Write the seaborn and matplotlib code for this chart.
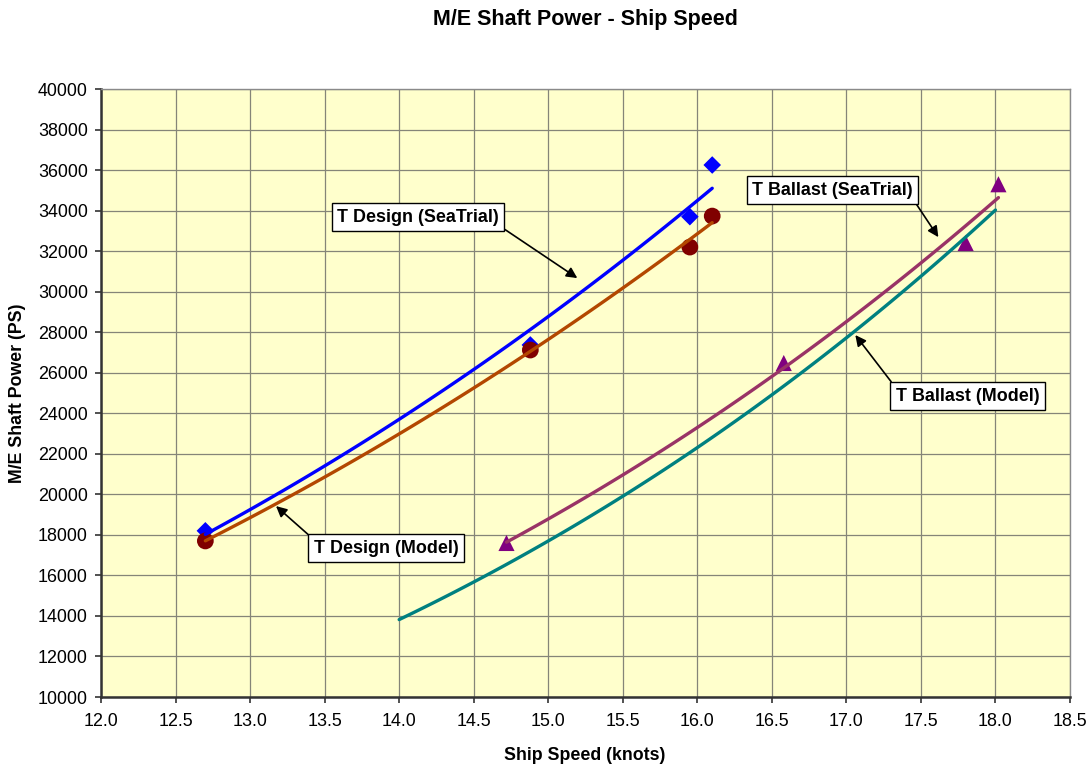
import numpy as np
import pandas as pd
import matplotlib
matplotlib.use("Agg")
import matplotlib.pyplot as plt
import seaborn as sns

# Measured points (speed in knots, M/E shaft power in PS)
speed_design = [12.7, 14.88, 15.95, 16.1]
power_design_seatrial = [18200, 27370, 33700, 36250]
power_design_model = [17700, 27120, 32200, 33730]

speed_ballast_seatrial = [14.72, 16.58, 17.8, 18.02]
power_ballast_seatrial = [17600, 26480, 32400, 35300]

# Model curve for ballast draft (no markers shown)
speed_ballast_model = [14.0, 14.5, 15.0, 16.0, 17.0, 18.0]
power_ballast_model = [13850, 15640, 17700, 22270, 27760, 34030]

x_ticks = [12.0, 12.5, 13.0, 13.5, 14.0, 14.5, 15.0, 15.5, 16.0, 16.5, 17.0, 17.5, 18.0, 18.5]
y_ticks = list(range(10000, 40001, 2000))

title = "M/E Shaft Power - Ship Speed"
x_label = "Ship Speed (knots)"
y_label = "M/E Shaft Power (PS)"


def power_trend(x, y, n=120):
    """Power-law trendline P = a * V^b fitted in log space over the data range."""
    b, log_a = np.polyfit(np.log(x), np.log(y), 1)
    xs = np.linspace(min(x), max(x), n)
    return pd.DataFrame({"speed": xs, "power": np.exp(log_a) * xs ** b})


sns.set_style("ticks")
plt.rcParams["font.family"] = ["Liberation Sans", "DejaVu Sans"]
plt.rcParams.update({"text.color": "black", "axes.labelcolor": "black",
                     "xtick.color": "black", "ytick.color": "black"})

fig = plt.figure(figsize=(10.91, 7.67), dpi=100)
ax = fig.add_axes([101 / 1091, 1 - 697 / 767, (1070 - 101) / 1091, (697 - 89) / 767])
ax.set_facecolor("#FFFFCC")

# markers
sns.scatterplot(x=speed_design, y=power_design_seatrial, marker="D", s=80,
                color="#0000FF", edgecolor="none", ax=ax, zorder=3)
sns.scatterplot(x=speed_design, y=power_design_model, marker="o", s=145,
                color="#800000", edgecolor="none", ax=ax, zorder=3)
sns.scatterplot(x=speed_ballast_seatrial, y=power_ballast_seatrial, marker="^", s=135,
                color="#800080", edgecolor="none", ax=ax, zorder=3)

# trendlines
lw = 2.4
sns.lineplot(data=power_trend(speed_design, power_design_seatrial), x="speed", y="power",
             color="#0000FF", lw=lw, ax=ax, zorder=4)
sns.lineplot(data=power_trend(speed_design, power_design_model), x="speed", y="power",
             color="#B34700", lw=lw, ax=ax, zorder=4)
sns.lineplot(data=power_trend(speed_ballast_seatrial, power_ballast_seatrial), x="speed", y="power",
             color="#993366", lw=lw, ax=ax, zorder=4)
sns.lineplot(data=power_trend(speed_ballast_model, power_ballast_model), x="speed", y="power",
             color="#008080", lw=lw, ax=ax, zorder=4)

ax.set_xlim(12.0, 18.5)
ax.set_ylim(10000, 40000)
ax.set_xticks(x_ticks)
ax.set_xticklabels([f"{v:.1f}" for v in x_ticks])
ax.set_yticks(y_ticks)
ax.set_yticklabels([str(v) for v in y_ticks])
ax.set_xlabel("")
ax.set_ylabel("")
ax.grid(True, color="#858578", lw=0.9, zorder=0)
ax.set_axisbelow(True)
ax.tick_params(axis="both", labelsize=12.9, length=4.5, width=1.2, color="#333333",
               labelcolor="black", direction="out")
ax.tick_params(axis="x", pad=7)
ax.tick_params(axis="y", pad=5)
for side in ("left", "bottom"):
    ax.spines[side].set_color("#333333")
    ax.spines[side].set_linewidth(1.8)
for side in ("top", "right"):
    ax.spines[side].set_color("#8a8a8a")
    ax.spines[side].set_linewidth(1.0)

# callout labels
box = dict(boxstyle="square,pad=0.3", fc="white", ec="black", lw=1.0)
arrow = dict(arrowstyle="-|>", color="black", lw=1.2, mutation_scale=16, shrinkA=0, shrinkB=0)
callouts = [
    ("T Design (SeaTrial)", (15.195, 30670), (14.128, 33680), (1, 0)),
    ("T Design (Model)", (13.174, 19420), (13.913, 17350), (0, 1)),
    ("T Ballast (SeaTrial)", (17.617, 32690), (16.906, 35010), (1, 0)),
    ("T Ballast (Model)", (17.06, 27860), (17.812, 24850), (0, 1)),
]
for text, head, center, rel in callouts:
    ax.annotate(text, xy=head, xytext=center, ha="center", va="center",
                fontsize=12.9, fontweight="bold", bbox=box,
                arrowprops=dict(arrow, relpos=rel), zorder=6)

fig.text(585 / 1091, 1 - 19 / 767, title, ha="center", va="center",
         fontsize=15.5, fontweight="bold")
fig.text(585 / 1091, 1 - 755 / 767, x_label, ha="center", va="center",
         fontsize=12.8, fontweight="bold")
fig.text(18 / 1091, 1 - 393 / 767, y_label, ha="center", va="center", rotation=90,
         fontsize=12.8, fontweight="bold")

fig.savefig("out.png", dpi=100, facecolor="white")
